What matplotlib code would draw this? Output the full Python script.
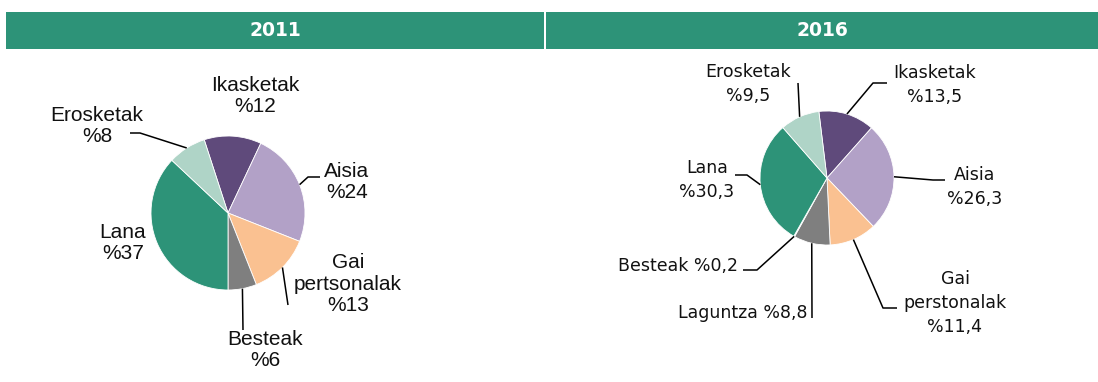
import numpy as np
import matplotlib
matplotlib.use('Agg')
import matplotlib.pyplot as plt
from matplotlib.patches import Rectangle

W, H = 1098, 382

# data
years = ['2011', '2016']
labels_2011 = ['Ikasketak', 'Aisia', 'Gai\npertsonalak', 'Besteak', 'Lana', 'Erosketak']
values_2011 = [12, 24, 13, 6, 37, 8]
labels_2016 = ['Ikasketak', 'Aisia', 'Gai\nperstonalak', 'Laguntza', 'Besteak', 'Lana', 'Erosketak']
values_2016 = [13.5, 26.3, 11.4, 8.8, 0.2, 30.3, 9.5]

colors_2011 = ['#5f4a7b', '#b2a1c7', '#fac191', '#7f7f7f', '#2d9378', '#afd4c7']
colors_2016 = ['#5f4a7b', '#b2a1c7', '#fac191', '#7f7f7f', '#9fc6c0', '#2d9378', '#afd4c7']
green = '#2d9378'


def pct(v):
    return '%' + ('%g' % v).replace('.', ',')


fig = plt.figure(figsize=(W / 100, H / 100), dpi=100)
ax = fig.add_axes([0, 0, 1, 1])

# header bars (image pixel coords, y from top)
for (x0, x1), yr in zip([(6, 544), (546, 1098)], years):
    ax.add_patch(Rectangle((x0, H - 49), x1 - x0, 37, color=green, lw=0))
    ax.text((x0 + x1) / 2, H - 30, yr, color='white', fontsize=13.5,
            fontweight='bold', ha='center', va='center')

# label layout: text pos, alignment, leader bends (image coords)
layout_2011 = [
    ((255, 96), 'center', []),
    ((347, 182), 'center', [(308, 177), (320, 177)]),
    ((348, 284), 'center', [(288, 305)]),
    ((265, 350), 'center', [(243, 330)]),
    ((123, 243), 'center', None),
    ((97, 126), 'center', [(140, 133), (130, 133)]),
]
layout_2016 = [
    ((935, 85), 'center', [(873, 83), (887, 83)]),
    ((975, 187), 'center', [(933, 180), (945, 180)]),
    ((955, 303), 'center', [(883, 308), (897, 308)]),
    ((807, 313), 'right', [(812, 318)]),
    ((738, 266), 'right', [(757, 270), (743, 270)]),
    ((707, 180), 'center', [(747, 175), (735, 175)]),
    ((748, 84), 'center', [(798, 83)]),
]

pies = [
    (values_2011, labels_2011, colors_2011, (228, 213), 77, 108, layout_2011,
     'Liberation Sans', 15, 1.15),
    (values_2016, labels_2016, colors_2016, (827, 178), 67, 97, layout_2016,
     'DejaVu Sans', 12.5, 1.42),
]

for vals, labs, cols, (cx, cy), r, start, lay, fam, fs, lsp in pies:
    wedges, _ = ax.pie(vals, colors=cols, startangle=start, counterclock=False,
                       center=(cx, H - cy), radius=r,
                       wedgeprops=dict(edgecolor='white', linewidth=0.6))
    for w, lab, v, ((tx, ty), ha, bends) in zip(wedges, labs, vals, lay):
        if ha == 'center':
            txt = lab + '\n' + pct(v)
        else:
            txt = lab + ' ' + pct(v)
        ax.text(tx, H - ty, txt, ha=ha, va='center', multialignment='center',
                fontsize=fs, family=fam, color='#111111', linespacing=lsp)
        if bends:
            mid = np.deg2rad((w.theta1 + w.theta2) / 2)
            xs = [cx + r * np.cos(mid)] + [b[0] for b in bends]
            ys = [H - cy + r * np.sin(mid)] + [H - b[1] for b in bends]
            ax.plot(xs, ys, color='black', lw=1.1, solid_capstyle='butt')

ax.set_xlim(0, W)
ax.set_ylim(0, H)
ax.set_aspect('auto')
ax.axis('off')

fig.savefig('out.png', dpi=100)
